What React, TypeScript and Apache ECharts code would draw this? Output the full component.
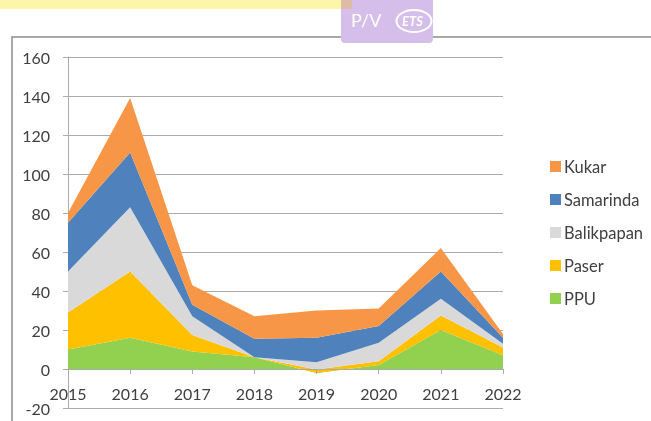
import React, { useEffect, useRef } from "react";
import * as echarts from "echarts";

const years = ["2015", "2016", "2017", "2018", "2019", "2020", "2021", "2022"];
const ppu = [10, 16, 9, 6, -2, 2, 20, 7];
const paser = [19, 34, 8.5, 0, 1.8, 2, 7.5, 4];
const balikpapan = [21, 33, 9.5, 0, 3.7, 9.5, 8.5, 2];
const samarinda = [25, 28, 6, 9.5, 12.5, 8.5, 14, 3];
const kukar = [5, 28, 10, 11.5, 14, 9, 12, 2];
const legendOrder = ["Kukar", "Samarinda", "Balikpapan", "Paser", "PPU"];

const FONT = "Lato";
const TEXT = "#404040";
const GRID = "#ABABAB";

function area(name: string, data: number[], color: string) {
  return {
    name,
    type: "line",
    stack: "total",
    stackStrategy: "all",
    data,
    symbol: "none",
    showSymbol: false,
    lineStyle: { width: 0 },
    itemStyle: { color },
    areaStyle: { color, opacity: 1 },
  };
}

export default function App() {
  const ref = useRef<HTMLDivElement>(null);
  useEffect(() => {
    const chart = echarts.init(ref.current!, undefined, { renderer: "svg" });
    chart.setOption({
      animation: false,
      backgroundColor: "#ffffff",
      textStyle: { fontFamily: FONT },
      grid: { left: 68, right: 148, top: 57, bottom: 13, containLabel: false, outerBoundsMode: "none" },
      legend: {
        orient: "vertical",
        left: 550,
        top: 158,
        data: legendOrder,
        itemWidth: 11,
        itemHeight: 11,
        itemGap: 16,
        icon: "rect",
        padding: 0,
        textStyle: { fontFamily: FONT, fontSize: 16.5, color: TEXT, padding: [0, 0, 0, -2] },
      },
      xAxis: {
        type: "category",
        boundaryGap: false,
        data: years,
        axisLine: { onZero: true, lineStyle: { color: GRID, width: 1 } },
        axisTick: { show: true, length: 5, alignWithLabel: true, lineStyle: { color: GRID } },
        axisLabel: { color: TEXT, fontFamily: FONT, fontSize: 16, margin: -23, interval: 0 },
        splitLine: { show: false },
        z: 5,
      },
      yAxis: {
        type: "value",
        min: -20,
        max: 160,
        interval: 20,
        axisLine: { show: true, lineStyle: { color: GRID, width: 1 } },
        axisTick: { show: true, length: 5, lineStyle: { color: GRID } },
        axisLabel: { color: TEXT, fontFamily: FONT, fontSize: 16, margin: 18 },
        splitLine: { show: true, lineStyle: { color: GRID, width: 1 } },
      },
      series: [
        area("PPU", ppu, "#92D050"),
        area("Paser", paser, "#FFC000"),
        area("Balikpapan", balikpapan, "#D9D9D9"),
        area("Samarinda", samarinda, "#4F81BD"),
        area("Kukar", kukar, "#F79646"),
      ],
      graphic: [
        {
          type: "rect",
          z: 0,
          silent: true,
          shape: { x: 12, y: 37, width: 700, height: 450 },
          style: { fill: "none", stroke: "#8C8C8C", lineWidth: 1.5 },
        },
        {
          type: "rect",
          z: 1,
          silent: true,
          shape: { x: 0, y: -2, width: 352, height: 11 },
          style: { fill: "#FDF6A9" },
        },
        {
          type: "rect",
          z: 2,
          silent: true,
          shape: { x: 341, y: -6, width: 92, height: 49, r: 4 },
          style: { fill: "#D6BEEA" },
        },
        {
          type: "rect",
          z: 2,
          silent: true,
          shape: { x: 341, y: -2, width: 11, height: 11 },
          style: { fill: "#DDBBA6" },
        },
        {
          type: "text",
          z: 3,
          silent: true,
          style: { x: 351, y: 11, text: "P/V", fill: "#ffffff", font: "18px " + FONT },
        },
        {
          type: "ellipse",
          z: 3,
          silent: true,
          shape: { cx: 414, cy: 21, rx: 17.5, ry: 11 },
          style: { fill: "none", stroke: "#ffffff", lineWidth: 2 },
        },
        {
          type: "text",
          z: 4,
          silent: true,
          style: { x: 402, y: 14, text: "ETS", fill: "#ffffff", font: "italic bold 13px " + FONT },
        },
      ],
    });
    return () => chart.dispose();
  }, []);
  return (
    <div
      ref={ref}
      style={{ position: "fixed", left: 0, top: 0, width: 651, height: 421, filter: "blur(0.4px)" }}
    />
  );
}
